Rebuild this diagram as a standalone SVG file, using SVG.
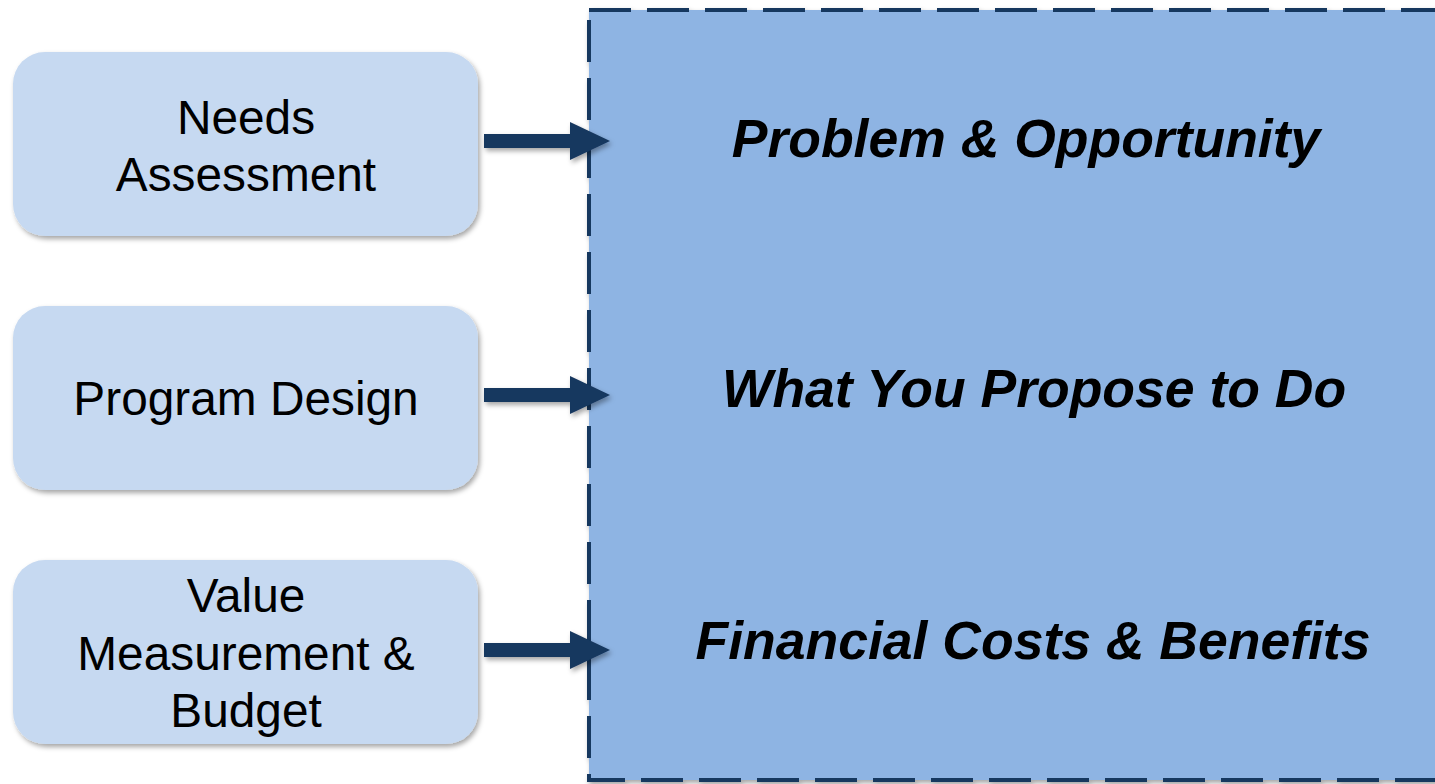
<svg xmlns="http://www.w3.org/2000/svg" width="1435" height="784" viewBox="0 0 1435 784">
<defs>
<filter id="sh" x="-10%" y="-10%" width="130%" height="130%">
<feDropShadow dx="2" dy="3" stdDeviation="2.5" flood-color="#000" flood-opacity="0.35"/>
</filter>
<style>
.box{fill:#C6D9F1;filter:url(#sh)}
.lt{font-family:"Liberation Sans",Arial,sans-serif;font-size:47.8px;fill:#000;text-anchor:middle}
.rt{font-family:"Liberation Sans",Arial,sans-serif;font-size:53.5px;font-weight:bold;font-style:italic;fill:#000;text-anchor:middle}
.arr{fill:#17375E;filter:url(#sh)}
</style>
</defs>
<rect width="1435" height="784" fill="#fff"/>
<g id="main">
<rect x="589" y="10" width="880" height="770" fill="#8EB4E3" stroke="#17375E" stroke-width="4" stroke-dasharray="42 16" filter="url(#sh)"/>
<text class="rt" x="1026" y="157">Problem &amp; Opportunity</text>
<text class="rt" x="1034" y="407">What You Propose to Do</text>
<text class="rt" x="1033" y="659">Financial Costs &amp; Benefits</text>
</g>
<g id="needs">
<rect class="box" x="13" y="52" width="465" height="184" rx="32"/>
<text class="lt" x="246" y="134">Needs</text>
<text class="lt" x="246" y="191">Assessment</text>
</g>
<g id="design">
<rect class="box" x="13" y="306" width="465" height="184" rx="32"/>
<text class="lt" x="246" y="415">Program Design</text>
</g>
<g id="value">
<rect class="box" x="13" y="560" width="465" height="184" rx="32"/>
<text class="lt" x="246" y="612">Value</text>
<text class="lt" x="246" y="670">Measurement &amp;</text>
<text class="lt" x="246" y="727">Budget</text>
</g>
<g id="connectors">
<path class="arr" d="M484 134 H570 V122 L610 141 L570 160 V148 H484 Z"/>
<path class="arr" d="M484 388 H570 V376 L610 395 L570 414 V402 H484 Z"/>
<path class="arr" d="M484 643 H570 V631 L610 650 L570 669 V657 H484 Z"/>
</g>
</svg>
